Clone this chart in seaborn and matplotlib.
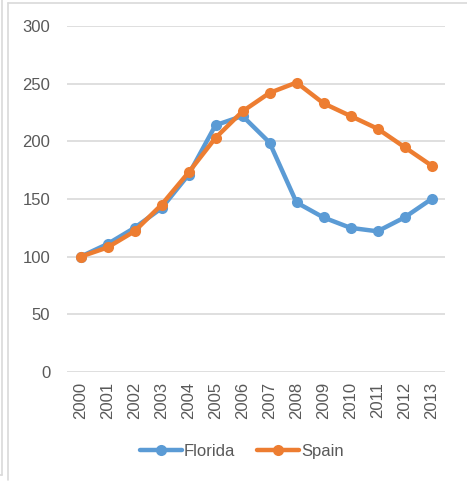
import matplotlib
matplotlib.use("Agg")
import matplotlib.pyplot as plt
import seaborn as sns
import pandas as pd
from matplotlib.lines import Line2D

years = [2000, 2001, 2002, 2003, 2004, 2005, 2006, 2007, 2008, 2009, 2010, 2011, 2012, 2013]
florida = [100, 111, 125, 142, 171, 214, 222, 199, 147, 134, 125, 122, 134, 150]
spain = [100, 108, 122, 145, 173, 203, 226, 242, 251, 233, 222, 211, 195, 179]
series_names = ["Florida", "Spain"]
colors = ["#5B9BD5", "#ED7D31"]
yticks = [0, 50, 100, 150, 200, 250, 300]

df = pd.DataFrame({
    "year": years * 2,
    "value": florida + spain,
    "series": [series_names[0]] * len(years) + [series_names[1]] * len(years),
})

sns.set_style("white")
plt.rcParams["font.family"] = ["Liberation Sans", "DejaVu Sans"]

fig = plt.figure(figsize=(4.67, 4.82), dpi=100)
ax = fig.add_axes([0.1435, 0.2282, 0.8094, 0.7178])

sns.lineplot(data=df, x="year", y="value", hue="series", palette=colors,
             marker="o", markersize=8, markeredgewidth=0, linewidth=3.2,
             ax=ax, legend=False, sort=False)

ax.set_xlim(years[0] - 0.5, years[-1] + 0.5)
ax.set_ylim(0, 300)
ax.set_yticks(yticks)
ax.set_xticks(years)
ax.set_xticklabels([str(y) for y in years], rotation=90)
ax.set_xlabel("")
ax.set_ylabel("")
ax.grid(axis="y", color="#d9d9d9", linewidth=1.2)
ax.set_axisbelow(True)
for s in ax.spines.values():
    s.set_visible(False)
ax.tick_params(axis="both", length=0, labelsize=12, labelcolor="#595959")
ax.tick_params(axis="y", pad=12)
ax.tick_params(axis="x", pad=7)

handles = [Line2D([0], [0], color=c, lw=3.2, marker="o", markersize=8, markeredgewidth=0)
           for c in colors]
fig.legend(handles, series_names, loc="center", bbox_to_anchor=(0.518, 0.063),
           ncol=2, frameon=False, fontsize=12, handlelength=2.5,
           handletextpad=0.15, columnspacing=1.3, labelcolor="#595959")

# outer chart frame lines
fig.add_artist(Line2D([8/467, 8/467], [1 - 480/482, 1 - 3/482], color="#d9d9d9", lw=1.2, transform=fig.transFigure))
fig.add_artist(Line2D([8/467, 1.0], [1 - 3/482, 1 - 3/482], color="#d9d9d9", lw=1.2, transform=fig.transFigure))
fig.add_artist(Line2D([2/467, 2/467], [1 - 475/482, 1.0], color="#d9d9d9", lw=1.2, transform=fig.transFigure))
fig.add_artist(Line2D([0, 2/467], [1 - 475/482, 1 - 475/482], color="#d9d9d9", lw=1.2, transform=fig.transFigure))

fig.savefig("out.png", dpi=100)
